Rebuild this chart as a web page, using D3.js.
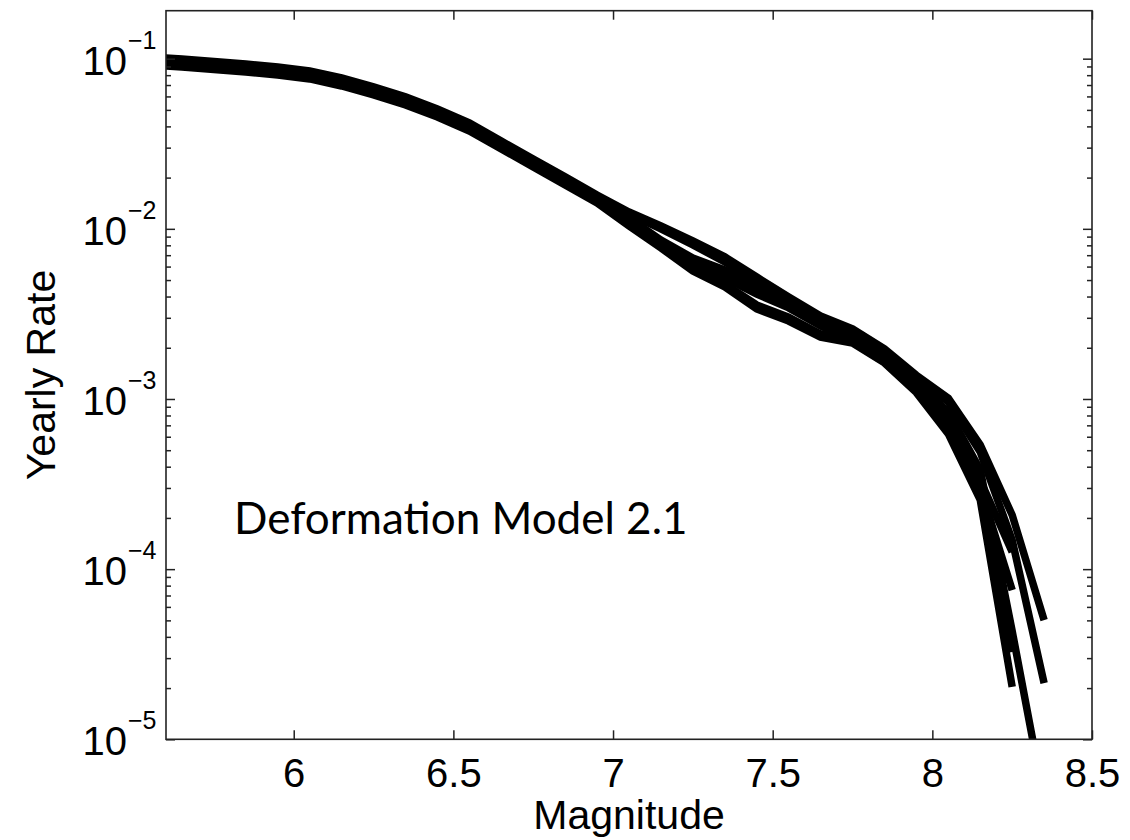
<!DOCTYPE html>
<html>
<head>
<meta charset="utf-8">
<script src="https://cdn.jsdelivr.net/npm/d3@7"></script>
<style>
  html, body { margin: 0; padding: 0; background: #fff; }
  svg { display: block; }
  .tick text { font-family: "Liberation Sans", Arial, Helvetica, sans-serif; }
</style>
</head>
<body>
<svg id="chart" width="1130" height="840"></svg>
<script>
// Magnitude bin centres shared by all branches
const magnitudes = [5.55, 5.65, 5.75, 5.85, 5.95, 6.05, 6.15, 6.25, 6.35, 6.45,
                    6.55, 6.65, 6.75, 6.85, 6.95, 7.05, 7.15, 7.25, 7.35, 7.45,
                    7.55, 7.65, 7.75, 7.85, 7.95, 8.05, 8.15, 8.25, 8.35];

// Cumulative yearly rate for each logic-tree branch
const branchA = [0.1023, 0.0996, 0.0963, 0.0931, 0.0894, 0.0847, 0.0770, 0.0682, 0.0596, 0.0506,
                 0.0419, 0.0328, 0.0257, 0.0202, 0.0158, 0.01256, 0.01039, 0.00848, 0.00684, 0.00521,
                 0.00398, 0.00308, 0.00258, 0.00197, 0.00138, 0.00101, 0.000537, 0.000208, 0.0000502];
const branchB = [0.1009, 0.0984, 0.0950, 0.0918, 0.0882, 0.0835, 0.0760, 0.0673, 0.0588, 0.0499,
                 0.0413, 0.0324, 0.0254, 0.0199, 0.0156, 0.01223, 0.00998, 0.00804, 0.00639, 0.00494,
                 0.00382, 0.00299, 0.00244, 0.00189, 0.00133, 0.000960, 0.000488, 0.000148, 0.0000214];
const branchC = [0.0984, 0.0956, 0.0925, 0.0894, 0.0858, 0.0813, 0.0740, 0.0655, 0.0572, 0.0486,
                 0.0402, 0.0315, 0.0247, 0.0194, 0.0152, 0.01158, 0.00860, 0.00674, 0.00573, 0.00468,
                 0.00372, 0.00291, 0.00231, 0.00179, 0.00124, 0.000839, 0.000383, 0.0000433, 0.0000044];
const branchD = [0.0969, 0.0943, 0.0912, 0.0882, 0.0847, 0.0802, 0.0730, 0.0646, 0.0564, 0.0480,
                 0.0397, 0.0311, 0.0244, 0.0191, 0.0150, 0.01127, 0.00837, 0.00639, 0.00536, 0.00437,
                 0.00357, 0.00280, 0.00225, 0.00174, 0.00119, 0.000752, 0.000334, 0.000126];
const branchE = [0.0956, 0.0931, 0.0900, 0.0870, 0.0835, 0.0791, 0.0720, 0.0637, 0.0556, 0.0473,
                 0.0392, 0.0307, 0.0240, 0.0188, 0.0148, 0.01097, 0.00815, 0.00613, 0.00514, 0.00414,
                 0.00343, 0.00269, 0.00219, 0.00170, 0.00115, 0.000694, 0.000300, 0.0000754];
const branchF = [0.0931, 0.0906, 0.0876, 0.0847, 0.0813, 0.0770, 0.0701, 0.0620, 0.0542, 0.0460,
                 0.0381, 0.0299, 0.0234, 0.0184, 0.0144, 0.01054, 0.00793, 0.00589, 0.00474, 0.00357,
                 0.00303, 0.00241, 0.00216, 0.00165, 0.00111, 0.000657, 0.000273, 0.0000326];
const branchG = [0.0918, 0.0894, 0.0864, 0.0835, 0.0802, 0.0760, 0.0691, 0.0612, 0.0534, 0.0454,
                 0.0376, 0.0295, 0.0231, 0.0181, 0.0142, 0.01039, 0.00772, 0.00565, 0.00455, 0.00338,
                 0.00287, 0.00231, 0.00213, 0.00163, 0.00109, 0.000623, 0.000255, 0.0000203];

const branches = [branchA, branchB, branchC, branchD, branchE, branchF, branchG];

// Axis ticks and labels
const xTicks = [6, 6.5, 7, 7.5, 8, 8.5];
const yDecades = [1e-5, 1e-4, 1e-3, 1e-2, 1e-1];
const yExponents = ["\u22125", "\u22124", "\u22123", "\u22122", "\u22121"];
const xLabel = "Magnitude";
const yLabel = "Yearly Rate";
const annotation = "Deformation Model 2.1";

const margin = { left: 166, top: 10.7, right: 1130 - 1092, bottom: 840 - 739.3 };
const width = 1130 - margin.left - margin.right;
const height = 840 - margin.top - margin.bottom;

const svg = d3.select("#chart");
const g = svg.append("g").attr("transform", `translate(${margin.left},${margin.top})`);

const x = d3.scaleLinear().domain([5.6, 8.5]).range([0, width]);
const y = d3.scaleLog().domain([1e-5, 0.1914]).range([height, 0]);

// minor log ticks (2..9 x 10^k) inside the visible range
const minorTicks = [];
for (let e = -5; e <= -1; e++) {
  for (let m = 2; m <= 9; m++) {
    const v = m * Math.pow(10, e);
    if (v <= y.domain()[1]) minorTicks.push(v);
  }
}

g.append("clipPath").attr("id", "plot-clip")
  .append("rect").attr("width", width).attr("height", height);

// branch curves
const line = d3.line()
  .x((d, i) => x(magnitudes[i]))
  .y(d => y(d));

g.append("g").attr("clip-path", "url(#plot-clip)")
  .selectAll("path")
  .data(branches)
  .join("path")
  .attr("d", d => line(d))
  .attr("fill", "none")
  .attr("stroke", "#000")
  .attr("stroke-width", 7.5)
  .attr("stroke-linejoin", "miter")
  .attr("stroke-linecap", "butt");

const axisColor = "#222";
const fontSize = 40;

function styleAxis(sel) {
  sel.select(".domain").remove();
  sel.selectAll(".tick line").attr("stroke", axisColor).attr("stroke-width", 1.5);
}

// x axis: bottom (labelled) and top (ticks only), ticks point inward
g.append("g")
  .attr("transform", `translate(0,${height})`)
  .call(d3.axisBottom(x).tickValues(xTicks).tickSize(-9).tickPadding(19)
        .tickFormat(d3.format("")))
  .call(styleAxis)
  .call(s => s.selectAll(".tick text").attr("font-size", fontSize).attr("fill", "#000"));

g.append("g")
  .call(d3.axisTop(x).tickValues(xTicks).tickSize(-9).tickFormat(""))
  .call(styleAxis);

// y axis: major and minor ticks on both sides
g.append("g")
  .call(d3.axisLeft(y).tickValues(yDecades).tickSize(-9).tickFormat(""))
  .call(styleAxis);
g.append("g")
  .call(d3.axisLeft(y).tickValues(minorTicks).tickSize(-5).tickFormat(""))
  .call(styleAxis);
g.append("g").attr("transform", `translate(${width},0)`)
  .call(d3.axisRight(y).tickValues(yDecades).tickSize(-9).tickFormat(""))
  .call(styleAxis);
g.append("g").attr("transform", `translate(${width},0)`)
  .call(d3.axisRight(y).tickValues(minorTicks).tickSize(-5).tickFormat(""))
  .call(styleAxis);

// y tick labels as 10 with a superscript exponent
const yLab = g.append("g")
  .attr("font-family", "'Liberation Sans', Arial, Helvetica, sans-serif")
  .attr("fill", "#000");
yDecades.forEach((v, i) => {
  const ty = y(v);
  yLab.append("text")
    .attr("x", -39).attr("y", ty + 16)
    .attr("text-anchor", "end").attr("font-size", fontSize)
    .text("10");
  yLab.append("text")
    .attr("x", -38).attr("y", ty - 10)
    .attr("text-anchor", "start").attr("font-size", 25)
    .text(yExponents[i]);
});

// frame
g.append("rect")
  .attr("width", width).attr("height", height)
  .attr("fill", "none").attr("stroke", axisColor).attr("stroke-width", 1.6);

// axis titles
svg.append("text")
  .attr("x", margin.left + x(7.05)).attr("y", 829)
  .attr("text-anchor", "middle")
  .attr("font-family", "'Liberation Sans', Arial, Helvetica, sans-serif")
  .attr("font-size", 41)
  .text(xLabel);

svg.append("text")
  .attr("transform", `translate(55,${margin.top + height / 2}) rotate(-90)`)
  .attr("text-anchor", "middle")
  .attr("font-family", "'Liberation Sans', Arial, Helvetica, sans-serif")
  .attr("font-size", 41)
  .text(yLabel);

// model annotation
svg.append("text")
  .attr("x", 234).attr("y", 534)
  .attr("font-family", "Lato, 'Open Sans', sans-serif")
  .attr("font-size", 44)
  .text(annotation);
</script>
</body>
</html>
